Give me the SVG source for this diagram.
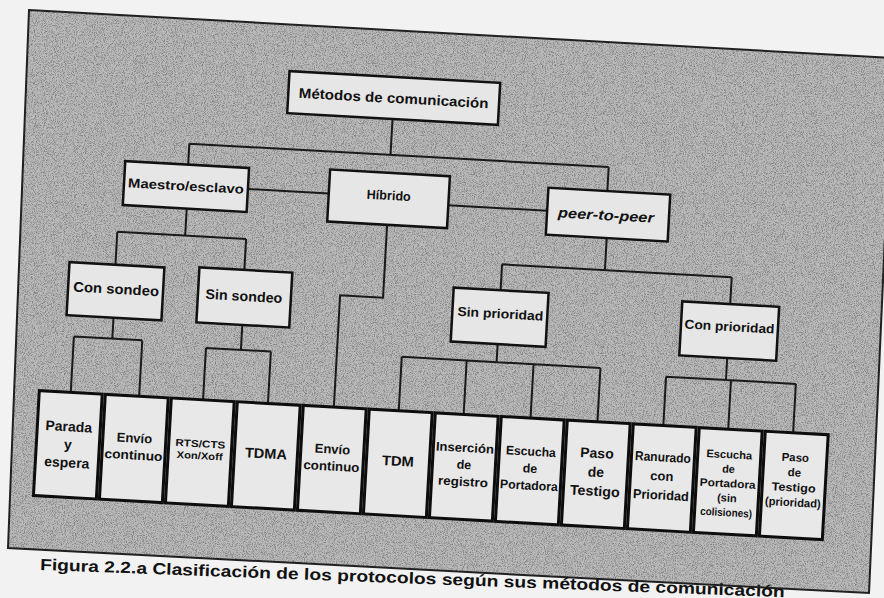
<svg xmlns="http://www.w3.org/2000/svg" width="884" height="598" viewBox="0 0 884 598">
<defs>
<style>
.box{fill:#e6e6e6;stroke:#111;stroke-width:2.5}
.leaf{fill:#e8e8e8;stroke:#0d0d0d;stroke-width:3}
.lbl{font-family:"Liberation Sans",Arial,Helvetica,sans-serif;font-weight:bold;fill:#111;text-anchor:middle}
.conn{fill:none;stroke:#1a1a1a;stroke-width:2}
.cap{font-family:"Liberation Sans",Arial,Helvetica,sans-serif;font-weight:bold;fill:#111;font-size:16px}
</style>
<filter id="grain" x="0" y="0" width="1" height="1">
<feTurbulence type="fractalNoise" baseFrequency="1.1" numOctaves="2" seed="4"/>
<feColorMatrix type="matrix" values="0 0 0 0 0  0 0 0 0 0  0 0 0 0 0  0 0 0 3 -1.3"/>
<feComposite operator="in" in2="SourceAlpha"/>
</filter>
</defs>
<rect width="884" height="598" fill="#f2f2f2"/>
<polygon id="panel" points="29,10 893,58 869,593 8,548" fill="#bababa" stroke="#222" stroke-width="2"/>
<polygon points="29,10 893,58 869,593 8,548" fill="#000" filter="url(#grain)" opacity="0.3"/>
<g transform="rotate(3.2 442 300)">
<g id="connectors" class="conn">
<path d="M382.5,122V158M181,158H601M181,158V179M601,158V182"/>
<path d="M242,200H323M443,205H542"/>
<path d="M182,223V250M114,250H243M114,250V283M243,250V281"/>
<path d="M115,336V357M76.5,357H145M76.5,357V413M145,357V413"/>
<path d="M244,337V361M209,361H274M209,361V413M274,361V413"/>
<path d="M383,228V301H340V413"/>
<path d="M603,229V261M500,261H730M500,261V287M730,261V288"/>
<path d="M500,341V359M405,359H604M405,359V413M470,359V413M537,359V413M604,359V413"/>
<path d="M730,342V364M670,364H800M670,364V413M735,364V413M800,364V413"/>
</g>
<g id="n-metodos"><rect class="box" x="277" y="80" width="211" height="42"/><text class="lbl" x="382.5" y="106" font-size="14" textLength="190" lengthAdjust="spacingAndGlyphs">Métodos de comunicación</text></g>
<g id="n-maestro"><rect class="box" x="118" y="179" width="124" height="44"/><text class="lbl" x="180" y="205" font-size="13" textLength="116" lengthAdjust="spacingAndGlyphs">Maestro/esclavo</text></g>
<g id="n-hibrido"><rect class="box" x="323" y="176" width="120" height="52"/><text class="lbl" x="383" y="203" font-size="13" textLength="44" lengthAdjust="spacingAndGlyphs">Híbrido</text></g>
<g id="n-p2p"><rect class="box" x="542" y="182" width="122" height="47"/><text class="lbl" x="601" y="211" font-size="14" font-style="italic" textLength="96" lengthAdjust="spacingAndGlyphs">peer-to-peer</text></g>
<g id="n-consondeo"><rect class="box" x="68" y="283" width="95" height="53"/><text class="lbl" x="116" y="312" font-size="14" textLength="86" lengthAdjust="spacingAndGlyphs">Con sondeo</text></g>
<g id="n-sinsondeo"><rect class="box" x="198" y="281" width="93" height="55"/><text class="lbl" x="244" y="312" font-size="14" textLength="77" lengthAdjust="spacingAndGlyphs">Sin sondeo</text></g>
<g id="n-sinprioridad"><rect class="box" x="453" y="287" width="95" height="54"/><text class="lbl" x="501" y="315" font-size="13" textLength="86" lengthAdjust="spacingAndGlyphs">Sin prioridad</text></g>
<g id="n-conprioridad"><rect class="box" x="682" y="288" width="97" height="54"/><text class="lbl" x="730.5" y="315" font-size="13" textLength="90" lengthAdjust="spacingAndGlyphs">Con prioridad</text></g>
<g id="l-parada"><rect class="leaf" x="45" y="413" width="63" height="105"/><text class="lbl" font-size="14"><tspan x="76.5" y="452">Parada</tspan><tspan x="76.5" y="470">y</tspan><tspan x="76.5" y="488">espera</tspan></text></g>
<g id="l-envio1"><rect class="leaf" x="111.1" y="413" width="63" height="105"/><text class="lbl" font-size="13"><tspan x="142.6" y="459.5">Envío</tspan><tspan x="142.6" y="476.5" textLength="58" lengthAdjust="spacingAndGlyphs">continuo</tspan></text></g>
<g id="l-rts"><rect class="leaf" x="177.2" y="413" width="63" height="105"/><text class="lbl" font-size="10"><tspan x="208.7" y="460.5" textLength="50" lengthAdjust="spacingAndGlyphs">RTS/CTS</tspan><tspan x="208.7" y="472.5" textLength="46" lengthAdjust="spacingAndGlyphs">Xon/Xoff</tspan></text></g>
<g id="l-tdma"><rect class="leaf" x="243.3" y="413" width="63" height="105"/><text class="lbl" x="274.8" y="468" font-size="14" textLength="42" lengthAdjust="spacingAndGlyphs">TDMA</text></g>
<g id="l-envio2"><rect class="leaf" x="309.4" y="413" width="63" height="105"/><text class="lbl" font-size="13"><tspan x="340.9" y="459.5">Envío</tspan><tspan x="340.9" y="476.5" textLength="56" lengthAdjust="spacingAndGlyphs">continuo</tspan></text></g>
<g id="l-tdm"><rect class="leaf" x="375.5" y="413" width="63" height="105"/><text class="lbl" x="407" y="468" font-size="14" textLength="32" lengthAdjust="spacingAndGlyphs">TDM</text></g>
<g id="l-insercion"><rect class="leaf" x="441.6" y="413" width="63" height="105"/><text class="lbl" font-size="12.5"><tspan x="473.1" y="450.5" textLength="58" lengthAdjust="spacingAndGlyphs">Inserción</tspan><tspan x="473.1" y="467.5">de</tspan><tspan x="473.1" y="484.5" textLength="50" lengthAdjust="spacingAndGlyphs">registro</tspan></text></g>
<g id="l-escucha"><rect class="leaf" x="507.7" y="413" width="63" height="105"/><text class="lbl" font-size="12.5"><tspan x="539.2" y="450.5" textLength="50" lengthAdjust="spacingAndGlyphs">Escucha</tspan><tspan x="539.2" y="467.5">de</tspan><tspan x="539.2" y="484.5" textLength="58" lengthAdjust="spacingAndGlyphs">Portadora</tspan></text></g>
<g id="l-paso"><rect class="leaf" x="573.8" y="413" width="63" height="105"/><text class="lbl" font-size="14"><tspan x="605.3" y="449">Paso</tspan><tspan x="605.3" y="468">de</tspan><tspan x="605.3" y="487" textLength="50" lengthAdjust="spacingAndGlyphs">Testigo</tspan></text></g>
<g id="l-ranurado"><rect class="leaf" x="639.9" y="413" width="63" height="105"/><text class="lbl" font-size="13"><tspan x="671.4" y="449" textLength="56" lengthAdjust="spacingAndGlyphs">Ranurado</tspan><tspan x="671.4" y="468">con</tspan><tspan x="671.4" y="487" textLength="56" lengthAdjust="spacingAndGlyphs">Prioridad</tspan></text></g>
<g id="l-escucha2"><rect class="leaf" x="706" y="413" width="63" height="105"/><text class="lbl" font-size="11"><tspan x="737.5" y="442" textLength="46" lengthAdjust="spacingAndGlyphs">Escucha</tspan><tspan x="737.5" y="456.5">de</tspan><tspan x="737.5" y="471" textLength="56" lengthAdjust="spacingAndGlyphs">Portadora</tspan><tspan x="737.5" y="485.5">(sin</tspan><tspan x="737.5" y="500" textLength="52" lengthAdjust="spacingAndGlyphs">colisiones)</tspan></text></g>
<g id="l-paso2"><rect class="leaf" x="772.1" y="413" width="63" height="105"/><text class="lbl" font-size="11.5"><tspan x="803.6" y="441.5">Paso</tspan><tspan x="803.6" y="456.5">de</tspan><tspan x="803.6" y="471.5" textLength="44" lengthAdjust="spacingAndGlyphs">Testigo</tspan><tspan x="803.6" y="486.5" textLength="56" lengthAdjust="spacingAndGlyphs">(prioridad)</tspan></text></g>
</g>
<g transform="rotate(2.1 42 570)">
<text class="cap" x="40" y="570" textLength="745" lengthAdjust="spacingAndGlyphs">Figura 2.2.a Clasificación de los protocolos según sus métodos de comunicación</text>
</g>
</svg>
